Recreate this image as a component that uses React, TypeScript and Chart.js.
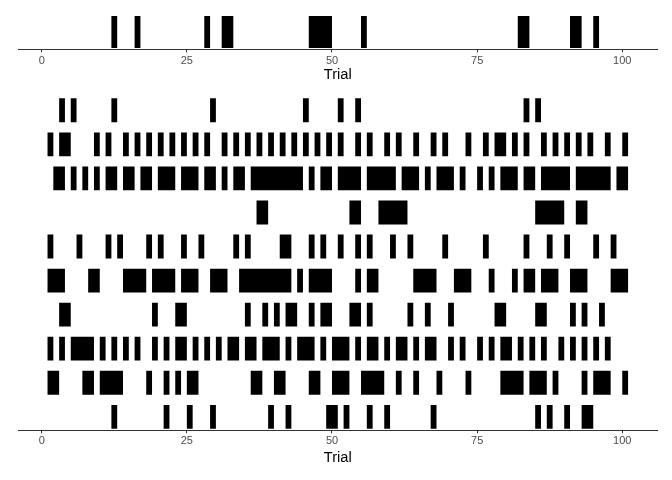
import React, { useEffect, useRef } from "react";
import { Chart, registerables } from "chart.js";

Chart.register(...registerables);

// ---------- data ----------
const tickValues = [0, 25, 50, 75, 100];
const axisTitle = "Trial";

const topTrials = [12, 16, 28, 31, 32, 46, 47, 48, 49, 55, 82, 83, 91, 92, 95];

const row1 = [3, 5, 12, 29, 45, 51, 54, 83, 85];
const row2 = [1, 3, 4, 9, 11, 14, 16, 18, 20, 22, 24, 26, 28, 31, 33, 35, 37, 39, 41, 43, 45, 47, 49, 51, 54, 56, 59, 61, 64, 67, 69, 73, 76, 78, 79, 81, 83, 86, 88, 90, 92, 94, 97, 100];
const row3 = [2, 3, 5, 7, 9, 11, 12, 14, 15, 17, 18, 20, 21, 22, 24, 25, 26, 28, 29, 31, 33, 34, 36, 37, 38, 39, 40, 41, 42, 43, 44, 46, 48, 49, 51, 52, 53, 54, 56, 57, 58, 59, 60, 62, 63, 64, 66, 68, 69, 70, 72, 75, 77, 79, 80, 81, 83, 84, 86, 87, 88, 89, 90, 92, 93, 94, 95, 96, 97, 99, 100];
const row4 = [37, 38, 53, 54, 58, 59, 60, 61, 62, 85, 86, 87, 88, 89, 92, 93];
const row5 = [1, 6, 11, 13, 18, 20, 24, 27, 33, 35, 41, 42, 46, 48, 51, 54, 56, 60, 63, 69, 76, 83, 87, 90, 95, 98];
const row6 = [1, 2, 3, 8, 9, 14, 15, 16, 17, 19, 20, 21, 22, 24, 25, 26, 29, 30, 31, 34, 35, 36, 37, 38, 39, 40, 41, 42, 44, 46, 47, 48, 49, 54, 56, 57, 64, 65, 66, 67, 71, 72, 73, 77, 81, 83, 84, 86, 87, 88, 91, 92, 93, 98, 99, 100];
const row7 = [3, 4, 19, 23, 24, 35, 38, 40, 42, 43, 46, 48, 49, 53, 54, 56, 63, 66, 70, 78, 79, 85, 86, 91, 93, 96];
const row8 = [1, 3, 5, 6, 7, 8, 10, 12, 14, 16, 19, 21, 23, 24, 26, 28, 30, 32, 33, 35, 36, 38, 39, 40, 42, 44, 45, 46, 48, 50, 51, 52, 54, 56, 57, 59, 61, 62, 64, 66, 67, 70, 72, 75, 77, 79, 80, 82, 84, 86, 89, 91, 93, 95, 97];
const row9 = [1, 2, 7, 8, 10, 11, 12, 13, 18, 21, 23, 25, 26, 36, 37, 40, 41, 46, 47, 50, 51, 52, 55, 56, 57, 58, 61, 64, 68, 73, 79, 80, 81, 82, 84, 85, 86, 88, 93, 95, 96, 97, 100];
const row10 = [12, 21, 25, 29, 39, 42, 49, 50, 52, 56, 59, 67, 85, 87, 90, 93, 94];

const bottomRows = [row1, row2, row3, row4, row5, row6, row7, row8, row9, row10];

// ---------- helpers ----------
function runs(trials: number[]): [number, number][] {
  const s = [...trials].sort((a, b) => a - b);
  const out: [number, number][] = [];
  if (!s.length) return out;
  let start = s[0];
  let prev = s[0];
  for (let i = 1; i < s.length; i++) {
    if (s[i] === prev + 1) {
      prev = s[i];
    } else {
      out.push([start, prev + 1]);
      start = s[i];
      prev = s[i];
    }
  }
  out.push([start, prev + 1]);
  return out;
}

const FONT = "'Liberation Sans', Arial, Helvetica, sans-serif";

function makeConfig(rows: number[][], yMin: number, yMax: number, barPct: number, padding: any): any {
  const pts = rows.flatMap((trials, i) => runs(trials).map((r) => ({ x: r, y: i + 1 })));
  return {
    type: "bar",
    data: {
      datasets: [
        {
          data: pts,
          backgroundColor: "#000000",
          borderWidth: 0,
          borderSkipped: false,
          barPercentage: barPct,
          categoryPercentage: 1,
        },
      ],
    },
    options: {
      indexAxis: "y",
      responsive: false,
      animation: false,
      devicePixelRatio: 1,
      events: [],
      layout: { padding },
      plugins: { legend: { display: false }, tooltip: { enabled: false }, title: { display: false } },
      scales: {
        x: {
          type: "linear",
          min: -4,
          max: 106,
          offset: false,
          afterBuildTicks: (scale: any) => {
            scale.ticks = tickValues.map((v) => ({ value: v }));
          },
          ticks: {
            color: "#4d4d4d",
            font: { family: FONT, size: 11 },
            padding: 1.5,
            maxRotation: 0,
            autoSkip: false,
          },
          grid: {
            display: true,
            drawOnChartArea: false,
            drawTicks: true,
            tickLength: 3,
            color: "#333333",
            lineWidth: 1,
          },
          border: { display: true, color: "#333333", width: 1 },
          title: {
            display: true,
            text: axisTitle,
            color: "#000000",
            font: { family: FONT, size: 14.67 },
            padding: { top: 0, bottom: 0 },
          },
        },
        y: {
          type: "linear",
          display: false,
          reverse: true,
          offset: false,
          min: yMin,
          max: yMax,
          ticks: { stepSize: 1, includeBounds: false },
          grid: { display: false, offset: false },
        },
      },
    },
  };
}

export default function App() {
  const topRef = useRef<HTMLCanvasElement | null>(null);
  const botRef = useRef<HTMLCanvasElement | null>(null);

  useEffect(() => {
    document.body.style.margin = "0";
    const c1 = new Chart(
      topRef.current as HTMLCanvasElement,
      makeConfig([topTrials], 0.5, 1.5, 0.92, { left: 18.5, right: 14.9, top: 14.7, bottom: 5.9 })
    );
    const c2 = new Chart(
      botRef.current as HTMLCanvasElement,
      makeConfig(bottomRows, 0.604, 10.396, 0.7, { left: 18.5, right: 14.9, top: 6.8, bottom: 12.9 })
    );
    return () => {
      c1.destroy();
      c2.destroy();
    };
  }, []);

  return (
    <div style={{ position: "absolute", left: 0, top: 0, width: 672, height: 480, background: "#ffffff" }}>
      <canvas ref={topRef} width={672} height={90} style={{ position: "absolute", left: 0, top: 0, width: 672, height: 90 }} />
      <canvas ref={botRef} width={672} height={390} style={{ position: "absolute", left: 0, top: 90, width: 672, height: 390 }} />
    </div>
  );
}
